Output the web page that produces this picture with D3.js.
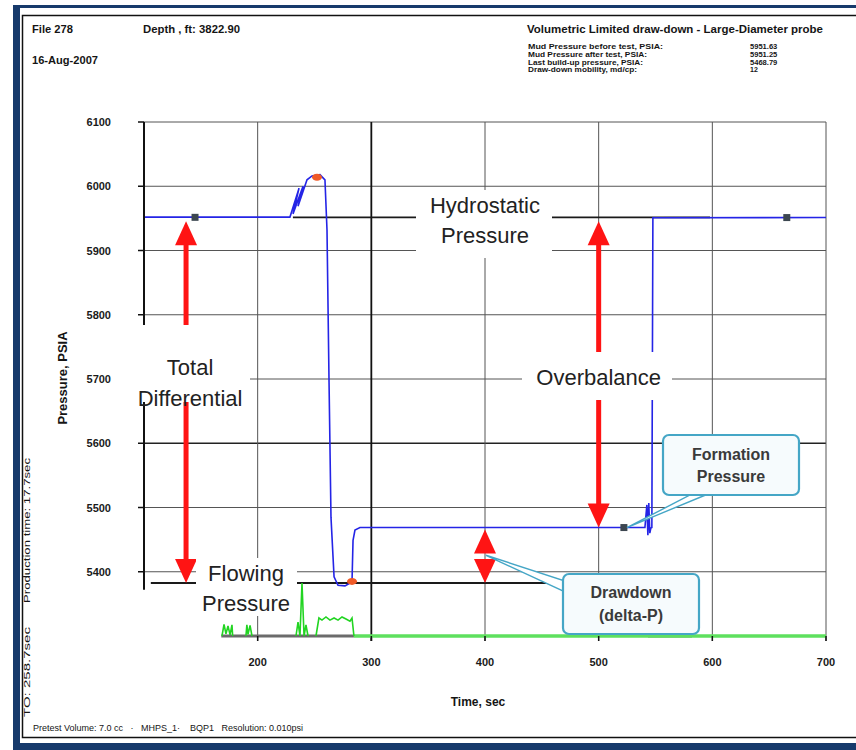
<!DOCTYPE html>
<html>
<head>
<meta charset="utf-8">
<script src="https://cdn.jsdelivr.net/npm/d3@7"></script>
<style>
  body { margin: 0; background: #fff; }
  svg { display: block; font-family: 'Liberation Sans', Arial, sans-serif; }
  .hdr { font-size: 10px; font-weight: bold; fill: #151515; }
  .info { font-size: 7.5px; font-weight: bold; fill: #151515; }
  .tick-label { font-size: 11px; font-weight: bold; fill: #1a1a1a; }
  .big { font-size: 22px; fill: #222; text-anchor: middle; }
  .callout-text { font-size: 16px; font-weight: bold; fill: #3a3a3a; text-anchor: middle; }
</style>
</head>
<body>
<div class="chart"></div>
<script>
// readings taken off the scanned plot
const timeTicks = [200, 300, 400, 500, 600, 700];
const pressureTicks = [5400, 5500, 5600, 5700, 5800, 5900, 6000, 6100];

const pressureTrace = [
  [100, 5952], [228.4, 5952], [236.4, 5997], [231.1, 5957], [239.9, 6000], [235.5, 5969],
  [243.4, 6010], [247.8, 6016], [254.8, 6018], [259.2, 6010], [261, 5932], [262.8, 5694],
  [264.5, 5485], [267.2, 5392], [270.7, 5379], [276.8, 5378], [283, 5384], [283.9, 5449],
  [285.6, 5465], [290, 5468.8], [540.7, 5468.8], [542.4, 5504], [543.3, 5457], [544.1, 5507],
  [545, 5460], [545.9, 5468], [546.8, 5468.8], [547.7, 5951], [700, 5951.25]
];

const rateBursts = [
  [[168.6, 0], [170.4, 2.2], [172.1, 0.4], [173.9, 1.9], [175.7, 0.2], [177.4, 2.1], [178, 0]],
  [[189.7, 0], [190.5, 2.1], [191.5, 0.3], [193.3, 2.0], [195, 0]],
  [[233.7, 0], [235.5, 2.6], [237.2, 0], [239, 10], [240.8, 0], [242.5, 2.1], [244.3, 0]],
  [[251.3, 0], [253.9, 3.4], [256.6, 3.0], [260.1, 3.6], [263.6, 3.0], [267.2, 3.4], [270.7, 3.0],
   [274.2, 3.6], [277.7, 3.2], [281.2, 2.8], [283, 3.4], [284.7, 0]]
];
const rateBaseline = [[284.7, 0], [700, 0]];
const pistonIdle = [[[168, 0], [284.7, 0]], [[543.4, 0], [582.1, 0]]];

const stablePoints = [[144.9, 5951.63], [522.2, 5468.79], [665.5, 5951.25]];
const extremePoints = [[252.2, 6014], [283, 5385]];

const hydrostatic = 5951.63;
const flowing = 5382.5;
const formation = 5468.79;
const refLines = [[hydrostatic, 231, 598], [flowing, 106, 466]];
const bigArrows = [[137, hydrostatic, flowing], [500, hydrostatic, formation]];
const drawdownArrow = [400, formation, flowing];

const testInfoLabels = ['Mud Pressure before test, PSIA:', 'Mud Pressure after test, PSIA:', 'Last  build-up pressure, PSIA:', 'Draw-down mobility, md/cp:'];
const testInfoValues = ['5951.63', '5951.25', '5468.79', '12'];

const W = 856, H = 750;
const x = d3.scaleLinear().domain([100, 700]).range([144, 826]);
const y = d3.scaleLinear().domain([5300, 6100]).range([636, 122]);
const yRate = d3.scaleLinear().domain([0, 10]).range([636, 583]);

const svg = d3.select('.chart').append('svg').attr('width', W).attr('height', H);

// page frame
svg.append('rect').attr('x', 13).attr('y', 5).attr('width', 7).attr('height', 745).attr('fill', '#173a6b');
svg.append('rect').attr('x', 13).attr('y', 5).attr('width', 843).attr('height', 3).attr('fill', '#173a6b');
svg.append('rect').attr('x', 13).attr('y', 743).attr('width', 843).attr('height', 7).attr('fill', '#173a6b');
svg.append('rect').attr('x', 22.5).attr('y', 15.5).attr('width', 900).attr('height', 722)
  .attr('fill', 'none').attr('stroke', '#111').attr('stroke-width', 1.5);

// grid
const grid = svg.append('g');
grid.selectAll('.hg').data(pressureTicks).enter().append('line')
  .attr('x1', x(100)).attr('x2', x(700))
  .attr('y1', d => y(d)).attr('y2', d => y(d))
  .attr('stroke', d => (d === 5600 ? '#222' : '#555'))
  .attr('stroke-width', d => (d === 5600 ? 1.6 : 1));
grid.selectAll('.vg').data(timeTicks).enter().append('line')
  .attr('x1', d => x(d)).attr('x2', d => x(d))
  .attr('y1', y(6100)).attr('y2', y(5300) + 5)
  .attr('stroke', d => (d === 300 ? '#111' : '#555'))
  .attr('stroke-width', d => (d === 300 ? 1.8 : 1));

// reference levels
svg.selectAll('.ref').data(refLines).enter().append('line')
  .attr('x1', d => x(d[1])).attr('x2', d => x(d[2]))
  .attr('y1', d => y(d[0])).attr('y2', d => y(d[0]))
  .attr('stroke', '#1a1a1a').attr('stroke-width', 1.8);

// pretest rate strip
const rateLine = d3.line().x(d => x(d[0])).y(d => yRate(d[1]));
svg.selectAll('.idle').data(pistonIdle).enter().append('path')
  .attr('d', rateLine).attr('stroke', '#6b6b6b').attr('stroke-width', 3).attr('fill', 'none');
svg.append('path').datum(rateBaseline).attr('d', rateLine)
  .attr('stroke', '#5ee05e').attr('stroke-width', 3.5).attr('fill', 'none');
svg.selectAll('.burst').data(rateBursts).enter().append('path')
  .attr('d', rateLine).attr('stroke', '#22d422').attr('stroke-width', 1.6).attr('fill', 'none');

// pressure trace
const pressureLine = d3.line().x(d => x(d[0])).y(d => y(d[1]));
svg.append('path').datum(pressureTrace).attr('d', pressureLine)
  .attr('stroke', '#2424e6').attr('stroke-width', 1.6).attr('fill', 'none');

svg.selectAll('.stable').data(stablePoints).enter().append('rect')
  .attr('x', d => x(d[0]) - 3.5).attr('y', d => y(d[1]) - 3.5)
  .attr('width', 7).attr('height', 7).attr('fill', '#3c4650');
svg.selectAll('.extreme').data(extremePoints).enter().append('ellipse')
  .attr('cx', d => x(d[0])).attr('cy', d => y(d[1]))
  .attr('rx', 5).attr('ry', 3.5).attr('fill', '#f05a28');

// left axis
svg.append('line').attr('x1', x(100)).attr('x2', x(100)).attr('y1', y(6100)).attr('y2', y(5372))
  .attr('stroke', '#111').attr('stroke-width', 2);
svg.selectAll('.ytick').data(pressureTicks).enter().append('line')
  .attr('x1', x(100) - 6).attr('x2', x(100)).attr('y1', d => y(d)).attr('y2', d => y(d))
  .attr('stroke', '#111').attr('stroke-width', 1.5);
svg.selectAll('.ylab').data(pressureTicks).enter().append('text')
  .attr('class', 'tick-label').attr('x', 111).attr('y', d => y(d) + 4)
  .attr('text-anchor', 'end').text(d => d);
svg.selectAll('.xtick').data(timeTicks).enter().append('line')
  .attr('x1', d => x(d)).attr('x2', d => x(d)).attr('y1', y(5300)).attr('y2', y(5300) + 5)
  .attr('stroke', '#111').attr('stroke-width', 1.5);
svg.selectAll('.xlab').data(timeTicks).enter().append('text')
  .attr('class', 'tick-label').attr('x', d => x(d)).attr('y', 666)
  .attr('text-anchor', 'middle').text(d => d);

svg.append('text').attr('class', 'hdr').attr('transform', 'translate(67,378) rotate(-90)')
  .attr('text-anchor', 'middle').style('font-size', '13px').text('Pressure, PSIA');
svg.append('text').attr('class', 'hdr').attr('x', 478).attr('y', 706)
  .attr('text-anchor', 'middle').style('font-size', '12px').text('Time, sec');

// red arrows
const red = '#ff1414';
function arrowHead(g, cx, tip, dir) {
  const base = tip + dir * 24;
  g.append('path').attr('d', `M${cx},${tip} L${cx - 11},${base} L${cx + 11},${base} Z`).attr('fill', red);
}
bigArrows.forEach(a => {
  const cx = x(a[0]);
  const top = y(a[1]) + 4;
  const bottom = y(a[2]);
  const g = svg.append('g');
  g.append('line').attr('x1', cx).attr('x2', cx).attr('y1', top + 20).attr('y2', bottom - 20)
    .attr('stroke', red).attr('stroke-width', 5);
  arrowHead(g, cx, top, 1);
  arrowHead(g, cx, bottom, -1);
});
const dd = svg.append('g');
arrowHead(dd, x(drawdownArrow[0]), y(drawdownArrow[1]) + 2, 1);
arrowHead(dd, x(drawdownArrow[0]), y(drawdownArrow[2]), -1);

// label boxes over the grid
function bigLabel(x0, y0, w, h, lines, cx, ys) {
  svg.append('rect').attr('x', x0).attr('y', y0).attr('width', w).attr('height', h).attr('fill', '#fff');
  lines.forEach((t, i) => svg.append('text').attr('class', 'big').attr('x', cx).attr('y', ys[i]).text(t));
}
bigLabel(128, 325, 122, 77, ['Total', 'Differential'], x(137) + 4, [375, 406]);
bigLabel(416, 190, 136, 68, ['Hydrostatic', 'Pressure'], x(400), [213, 243]);
bigLabel(522, 352, 150, 48, ['Overbalance'], x(500), [385]);
bigLabel(196, 558, 101, 58, ['Flowing', 'Pressure'], 246, [581, 611]);

// callouts
const teal = '#45a6c6';
function callout(bx, by, bw, bh, pointer, lines, ys) {
  svg.append('path').attr('d', d3.line()(pointer) + 'Z')
    .attr('fill', '#fff').attr('stroke', teal).attr('stroke-width', 1.4);
  svg.append('rect').attr('x', bx).attr('y', by).attr('width', bw).attr('height', bh)
    .attr('rx', 6).attr('fill', '#f6fbfd').attr('stroke', teal).attr('stroke-width', 2.2);
  lines.forEach((t, i) => svg.append('text').attr('class', 'callout-text')
    .attr('x', bx + bw / 2).attr('y', ys[i]).text(t));
}
callout(663, 435, 136, 60,
  [[692, 494], [708, 494], [x(stablePoints[1][0]) + 3, y(formation)]],
  ['Formation', 'Pressure'], [460, 482]);
callout(563, 574, 136, 60,
  [[565, 581], [565, 592], [x(drawdownArrow[0]) + 1, (y(formation) + y(flowing)) / 2]],
  ['Drawdown', '(delta-P)'], [598, 621]);

// header block
function hdr(txt, x0, y0, len, cls) {
  svg.append('text').attr('class', cls || 'hdr').attr('x', x0).attr('y', y0)
    .attr('textLength', len).attr('lengthAdjust', 'spacingAndGlyphs').text(txt);
}
hdr('File 278', 32, 33, 41);
hdr('Depth , ft: 3822.90', 143, 33, 97);
hdr('16-Aug-2007', 32, 64, 66);
hdr('Volumetric Limited draw-down - Large-Diameter probe', 527, 33, 296);
const infoLens = [135, 119, 115, 109];
testInfoLabels.forEach((t, i) => hdr(t, 528, 49 + i * 7.8, infoLens[i], 'info'));
testInfoValues.forEach((t, i) => hdr(t, 750, 49 + i * 7.8, t.length * 3.9, 'info'));

svg.append('text').attr('class', 'hdr').style('font-weight', 'normal').style('font-size', '9px')
  .attr('transform', 'translate(30,717) rotate(-90)')
  .attr('textLength', 90).attr('lengthAdjust', 'spacingAndGlyphs').text('TO: 258.7sec');
svg.append('text').attr('class', 'hdr').style('font-weight', 'normal').style('font-size', '9px')
  .attr('transform', 'translate(30,603) rotate(-90)')
  .attr('textLength', 145).attr('lengthAdjust', 'spacingAndGlyphs').text('Production time: 17.7sec');
svg.append('text').attr('class', 'hdr').style('font-weight', 'normal').style('font-size', '9px')
  .attr('x', 33).attr('y', 731).attr('xml:space', 'preserve')
  .text('Pretest Volume: 7.0 cc   ·   MHPS_1·    BQP1   Resolution: 0.010psi');
</script>
</body>
</html>
